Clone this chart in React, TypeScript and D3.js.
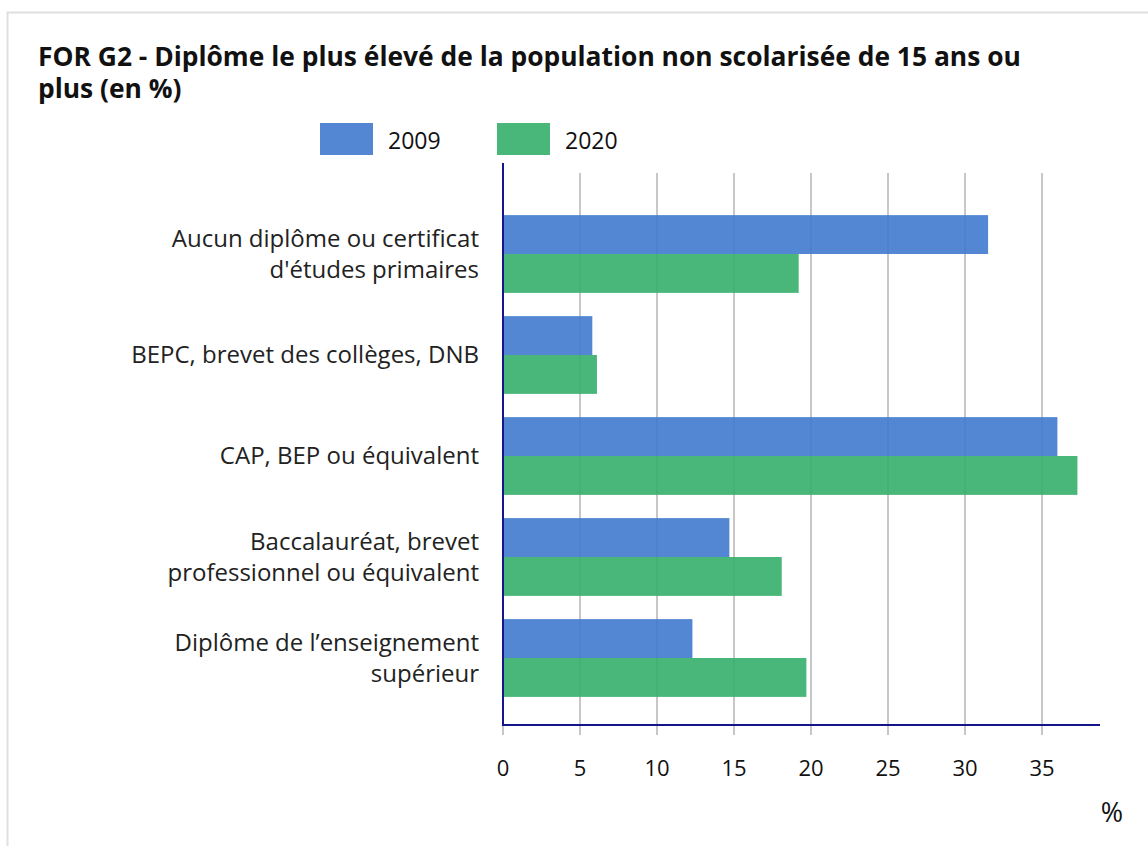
import React, { useRef, useEffect } from 'react';
import * as d3 from 'd3';

const categories = [
  ['Aucun diplôme ou certificat', "d'études primaires"],
  ['BEPC, brevet des collèges, DNB'],
  ['CAP, BEP ou équivalent'],
  ['Baccalauréat, brevet', 'professionnel ou équivalent'],
  ['Diplôme de l’enseignement', 'supérieur'],
];
const seriesNames = ['2009', '2020'];
const values2009 = [31.5, 5.8, 36.0, 14.7, 12.3];
const values2020 = [19.2, 6.1, 37.3, 18.1, 19.7];
const xTicks = [0, 5, 10, 15, 20, 25, 30, 35];
const colors = ['#4079ce', '#35ae6b'];

const W = 1148;
const H = 846;

const App = () => {
  const ref = useRef(null);

  useEffect(() => {
    if (!ref.current) return;
    d3.select(ref.current).select('svg').remove();

    const font = '"Open Sans", "Noto Sans", sans-serif';
    const svg = d3.select(ref.current)
      .append('svg')
      .attr('width', W)
      .attr('height', H)
      .style('position', 'absolute')
      .style('left', 0)
      .style('top', 0)
      .style('font-family', font);

    // frame
    svg.append('rect')
      .attr('x', 7.5).attr('y', 12.5)
      .attr('width', 1200).attr('height', 900)
      .attr('fill', '#fff')
      .attr('stroke', '#e0e0e0')
      .attr('stroke-width', 2);

    // title (two lines, tight leading like the original)
    const titleLines = [
      'FOR G2 - Diplôme le plus élevé de la population non scolarisée de 15 ans ou',
      'plus (en %)',
    ];
    svg.append('g')
      .selectAll('text')
      .data(titleLines)
      .join('text')
      .attr('x', 38)
      .attr('y', (_, i) => 66 + i * 32)
      .attr('font-size', 26.4)
      .attr('font-weight', 700)
      .attr('fill', '#111')
      .text(d => d);

    // legend
    const legendX = [320, 497];
    seriesNames.forEach((name, i) => {
      svg.append('rect')
        .attr('x', legendX[i]).attr('y', 123)
        .attr('width', 53).attr('height', 32)
        .attr('fill', colors[i])
        .attr('fill-opacity', 0.9);
      svg.append('text')
        .attr('x', legendX[i] + 68).attr('y', 149)
        .attr('font-size', 23)
        .attr('fill', '#111')
        .text(name);
    });

    const x = d3.scaleLinear().domain([0, 35]).range([503, 1042]);
    const y = d3.scaleBand()
      .domain(categories.map((_, i) => String(i)))
      .range([203.5, 708.5])
      .paddingInner(0.23)
      .paddingOuter(0.115);
    const half = y.bandwidth() / 2;

    // grid
    svg.append('g')
      .selectAll('line')
      .data(xTicks.slice(1))
      .join('line')
      .attr('x1', d => x(d)).attr('x2', d => x(d))
      .attr('y1', 173).attr('y2', 735)
      .attr('stroke', '#8f8f8f')
      .attr('stroke-width', 1);
    svg.append('line')
      .attr('x1', x(0)).attr('x2', x(0))
      .attr('y1', 725).attr('y2', 735)
      .attr('stroke', '#8f8f8f');

    // bars
    const data = [values2009, values2020];
    data.forEach((vals, s) => {
      svg.append('g')
        .selectAll('rect')
        .data(vals)
        .join('rect')
        .attr('x', x(0))
        .attr('y', (_, i) => (y(String(i)) as number) + s * half)
        .attr('width', d => x(d) - x(0))
        .attr('height', half)
        .attr('fill', colors[s])
        .attr('fill-opacity', 0.9);
    });

    // axes
    svg.append('line')
      .attr('x1', x(0)).attr('x2', x(0))
      .attr('y1', 163).attr('y2', 726)
      .attr('stroke', '#15158a').attr('stroke-width', 2);
    svg.append('line')
      .attr('x1', x(0) - 1).attr('x2', 1100)
      .attr('y1', 725).attr('y2', 725)
      .attr('stroke', '#15158a').attr('stroke-width', 2);

    // x tick labels
    svg.append('g')
      .selectAll('text')
      .data(xTicks)
      .join('text')
      .attr('x', d => x(d))
      .attr('y', 776)
      .attr('text-anchor', 'middle')
      .attr('font-size', 22)
      .attr('fill', '#111')
      .text(d => d);

    svg.append('text')
      .attr('x', 1112).attr('y', 822)
      .attr('text-anchor', 'middle')
      .attr('font-size', 27)
      .attr('fill', '#111')
      .text('%');

    // category labels
    categories.forEach((lines, i) => {
      const cy = (y(String(i)) as number) + half;
      const lh = 31;
      const t = svg.append('text')
        .attr('text-anchor', 'end')
        .attr('font-size', 24)
        .attr('fill', '#222');
      lines.forEach((line, j) => {
        t.append('tspan')
          .attr('x', 479)
          .attr('y', cy + 8 + (j - (lines.length - 1) / 2) * lh)
          .text(line);
      });
    });
  }, []);

  return <div ref={ref} />;
};

export default App;
